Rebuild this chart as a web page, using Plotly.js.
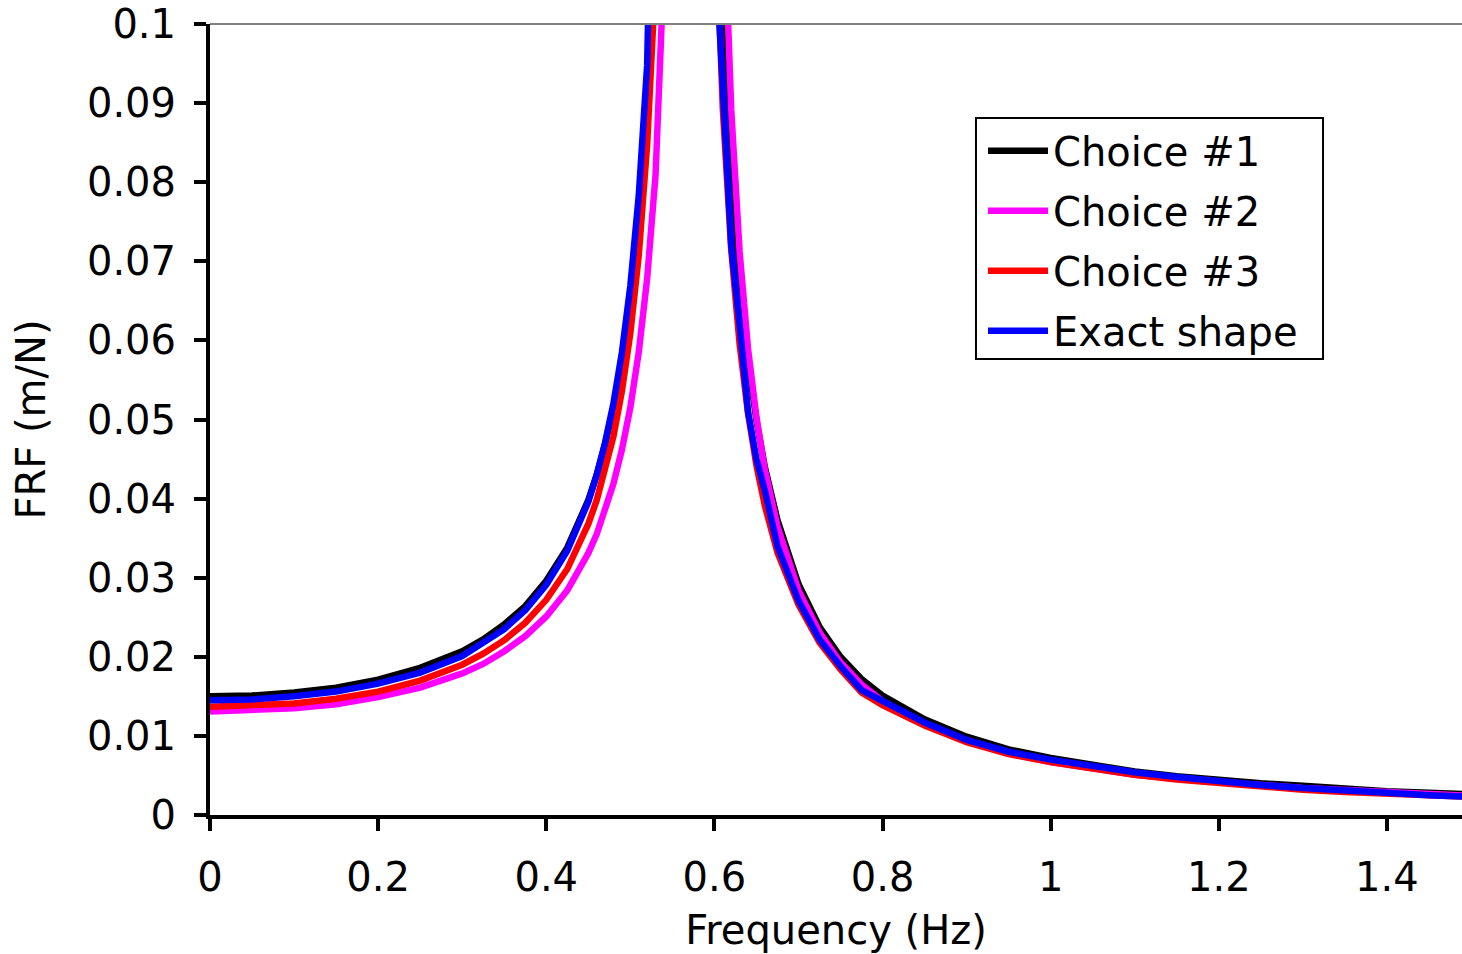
<!DOCTYPE html>
<html>
<head>
<meta charset="utf-8">
<script src="https://cdn.plot.ly/plotly-3.0.1.min.js"></script>
<style>html,body{margin:0;padding:0;background:#fff;}#chart{width:1462px;height:954px;}</style>
</head>
<body>
<div id="chart"></div>
<script>
// Frequency (Hz)
const freq = [0, 0.05, 0.1, 0.15, 0.2, 0.25, 0.3, 0.325, 0.35, 0.375, 0.4, 0.425, 0.45, 0.46, 0.47, 0.48, 0.49, 0.5, 0.51, 0.52, 0.53, 0.54, 0.55, 0.56, 0.57, 0.58, 0.59, 0.6, 0.61, 0.62, 0.63, 0.64, 0.65, 0.66, 0.675, 0.7, 0.725, 0.75, 0.775, 0.8, 0.85, 0.9, 0.95, 1.0, 1.05, 1.1, 1.15, 1.2, 1.25, 1.3, 1.35, 1.4, 1.45, 1.5];

// FRF (m/N)
const choice1 = [0.0150, 0.0151, 0.0155, 0.0161, 0.0171, 0.0186, 0.0207, 0.0222, 0.0241, 0.0264, 0.0296, 0.0338, 0.0398, 0.0430, 0.0469, 0.0516, 0.0575, 0.0651, 0.0752, 0.0895, 0.1108, 0.146, 0.22, 0.40, 0.70, 0.38, 0.21, 0.139, 0.1032, 0.0818, 0.0677, 0.0575, 0.0499, 0.0440, 0.0373, 0.0292, 0.0238, 0.0200, 0.0172, 0.0151, 0.0121, 0.0099, 0.0083, 0.0072, 0.0063, 0.0055, 0.0049, 0.0044, 0.0040, 0.0037, 0.0033, 0.0030, 0.0028, 0.0026];
const choice2 = [0.0131, 0.0132, 0.0135, 0.0140, 0.0149, 0.0161, 0.0179, 0.0191, 0.0207, 0.0226, 0.0251, 0.0284, 0.0331, 0.0355, 0.0384, 0.0419, 0.0462, 0.0515, 0.0585, 0.0678, 0.0809, 0.1007, 0.134, 0.203, 0.35, 0.60, 0.30, 0.177, 0.119, 0.0892, 0.0712, 0.0590, 0.0503, 0.0437, 0.0365, 0.0284, 0.0231, 0.0193, 0.0165, 0.0144, 0.0114, 0.0093, 0.0078, 0.0067, 0.0058, 0.0051, 0.0046, 0.0041, 0.0038, 0.0034, 0.0031, 0.0028, 0.0026, 0.0024];
const choice3 = [0.0137, 0.0138, 0.0141, 0.0147, 0.0156, 0.0170, 0.0190, 0.0204, 0.0221, 0.0243, 0.0272, 0.0311, 0.0368, 0.0398, 0.0435, 0.0479, 0.0536, 0.0609, 0.0707, 0.0847, 0.1060, 0.143, 0.22, 0.40, 0.65, 0.30, 0.17, 0.118, 0.0893, 0.0715, 0.0595, 0.0508, 0.0442, 0.0391, 0.0332, 0.0266, 0.0218, 0.0184, 0.0155, 0.0139, 0.0113, 0.0092, 0.0077, 0.0067, 0.0058, 0.0051, 0.0045, 0.0040, 0.0036, 0.0032, 0.0029, 0.0027, 0.0025, 0.0023];
const exact   = [0.0145, 0.0146, 0.0150, 0.0156, 0.0166, 0.0180, 0.0201, 0.0217, 0.0235, 0.0259, 0.0291, 0.0334, 0.0396, 0.0430, 0.0471, 0.0521, 0.0585, 0.0669, 0.0783, 0.0948, 0.121, 0.168, 0.25, 0.45, 0.54, 0.25, 0.16, 0.112, 0.092, 0.072, 0.062, 0.051, 0.045, 0.041, 0.034, 0.0271, 0.0222, 0.0188, 0.0158, 0.0144, 0.0117, 0.0095, 0.0080, 0.0070, 0.0061, 0.0054, 0.0048, 0.0042, 0.0038, 0.0034, 0.0030, 0.0028, 0.0025, 0.0023];

const seriesNames = ["Choice #1", "Choice #2", "Choice #3", "Exact shape"];
const seriesColors = ["#000000", "#FF00FF", "#FF0000", "#0000FF"];
const seriesValues = [choice1, choice2, choice3, exact];

const FONT = "DejaVu Sans, Verdana, sans-serif";
const FS = 40;

const traces = seriesValues.map((vals, i) => ({
  x: freq,
  y: vals,
  type: "scatter",
  mode: "lines",
  name: seriesNames[i],
  legendgroup: "g" + i,
  line: {color: seriesColors[i], width: 6.5},
  cliponaxis: true
}));

const layout = {
  width: 1462,
  height: 954,
  margin: {l: 210, r: 0, t: 24, b: 139},
  paper_bgcolor: "#ffffff",
  plot_bgcolor: "#ffffff",
  font: {family: FONT, size: FS, color: "#000000"},
  showlegend: true,
  legend: {
    x: 0.6174, y: 0.881, xanchor: "left", yanchor: "top",
    borderwidth: 0, bgcolor: "rgba(0,0,0,0)",
    font: {family: FONT, size: FS, color: "#000000"},
    traceorder: "grouped", tracegroupgap: 5,
    itemwidth: 60
  },
  xaxis: {
    range: [0, 1.4893],
    tick0: 0, dtick: 0.2,
    ticks: "outside", ticklen: 12, tickwidth: 4, tickcolor: "#000000",
    ticklabelstandoff: 12,
    showline: true, linecolor: "#000000", linewidth: 4,
    showgrid: false, zeroline: false,
    tickfont: {family: FONT, size: FS, color: "#000000"},
    title: {text: "Frequency (Hz)", font: {family: FONT, size: FS, color: "#000000"}, standoff: 18}
  },
  yaxis: {
    range: [0, 0.1],
    tick0: 0, dtick: 0.01,
    ticks: "outside", ticklen: 12, tickwidth: 4, tickcolor: "#000000",
    ticklabelstandoff: 10,
    showline: true, linecolor: "#000000", linewidth: 4,
    showgrid: false, zeroline: false,
    tickfont: {family: FONT, size: FS, color: "#000000"},
    title: {text: "FRF (m/N)", font: {family: FONT, size: FS, color: "#000000"}, standoff: 30}
  },
  shapes: [
    {
      type: "line", xref: "paper", yref: "paper",
      x0: 0, x1: 1, y0: 1, y1: 1,
      line: {color: "#808080", width: 2}
    },
    {
      type: "rect", xref: "paper", yref: "paper", layer: "above",
      x0: 0.6118, x1: 0.8890, y0: 0.5765, y1: 0.8811,
      fillcolor: "#ffffff",
      line: {color: "#000000", width: 2}
    }
  ]
};

Plotly.newPlot("chart", traces, layout, {displayModeBar: false, staticPlot: true});
</script>
</body>
</html>
